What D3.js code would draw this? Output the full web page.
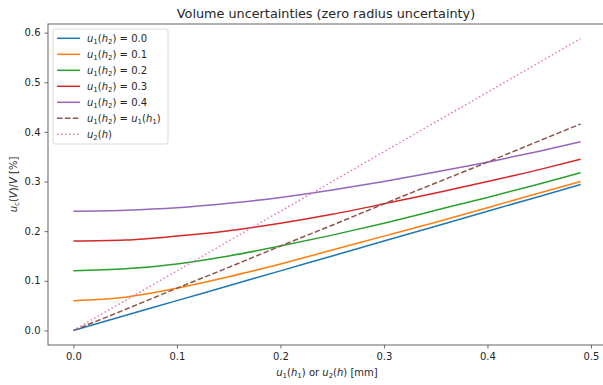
<!DOCTYPE html>
<html>
<head>
<meta charset="utf-8">
<script src="https://d3js.org/d3.v7.min.js"></script>
<style>
  body { margin: 0; background: #fff; }
  text { font-family: 'DejaVu Sans', sans-serif; fill: #262626; }
  .tick text { font-size: 10px; }
  .tick line { stroke: #444; stroke-width: 0.8; }
  .domain { display: none; }
</style>
</head>
<body>
<script>
// values
var xs = [0, 0.05, 0.1, 0.15, 0.2, 0.25, 0.3, 0.35, 0.4, 0.45, 0.49];
var h2_00 = [0, 0.030, 0.060, 0.090, 0.120, 0.150, 0.180, 0.210, 0.240, 0.270, 0.294];
var h2_01 = [0.060, 0.067, 0.085, 0.108, 0.134, 0.162, 0.190, 0.218, 0.247, 0.277, 0.300];
var h2_02 = [0.120, 0.124, 0.134, 0.150, 0.170, 0.192, 0.216, 0.242, 0.268, 0.295, 0.318];
var h2_03 = [0.180, 0.182, 0.190, 0.201, 0.216, 0.234, 0.255, 0.277, 0.300, 0.324, 0.345];
var h2_04 = [0.240, 0.242, 0.247, 0.256, 0.268, 0.283, 0.300, 0.319, 0.339, 0.361, 0.380];
var h2_eq = [0, 0.042, 0.085, 0.127, 0.170, 0.212, 0.255, 0.297, 0.339, 0.382, 0.416];
var u2h   = [0, 0.060, 0.120, 0.180, 0.240, 0.300, 0.360, 0.420, 0.480, 0.540, 0.588];

var xTicks = [0, 0.1, 0.2, 0.3, 0.4, 0.5];
var yTicks = [0, 0.1, 0.2, 0.3, 0.4, 0.5, 0.6];

var series = [
  {v: h2_00, color: '#1f77b4', dash: null, label: [['u','i'],['1','s'],['(','r'],['h','i'],['2','s'],[') = 0.0','r']]},
  {v: h2_01, color: '#ff7f0e', dash: null, label: [['u','i'],['1','s'],['(','r'],['h','i'],['2','s'],[') = 0.1','r']]},
  {v: h2_02, color: '#2ca02c', dash: null, label: [['u','i'],['1','s'],['(','r'],['h','i'],['2','s'],[') = 0.2','r']]},
  {v: h2_03, color: '#d62728', dash: null, label: [['u','i'],['1','s'],['(','r'],['h','i'],['2','s'],[') = 0.3','r']]},
  {v: h2_04, color: '#9467bd', dash: null, label: [['u','i'],['1','s'],['(','r'],['h','i'],['2','s'],[') = 0.4','r']]},
  {v: h2_eq, color: '#8c564b', dash: '5.5,2.4', label: [['u','i'],['1','s'],['(','r'],['h','i'],['2','s'],[') = ','r'],['u','i'],['1','s'],['(','r'],['h','i'],['1','s'],[')','r']]},
  {v: u2h,   color: '#e377c2', dash: '1.5,2.5', label: [['u','i'],['2','s'],['(','r'],['h','i'],[')','r']]}
];

var W = 603, H = 385;
var m = {left: 48, top: 24, right: 606, bottom: 345};

var svg = d3.select('body').append('svg')
  .attr('width', W).attr('height', H);

var x = d3.scaleLinear().domain([-0.0245, 0.5145]).range([m.left, m.right]);
var y = d3.scaleLinear().domain([-0.0294, 0.6174]).range([m.bottom, m.top]);

// math-ish text: italic variables, small lowered subscripts
function mathText(t, parts, size) {
  parts.forEach(function(p, i) {
    var prev = i > 0 ? parts[i - 1][1] : 'r';
    var ts = t.append('tspan').text(p[0]);
    if (p[1] === 'i') ts.attr('font-style', 'italic');
    if (p[1] === 's') {
      ts.attr('font-size', size * 0.7).attr('dy', size * 0.22);
    } else if (prev === 's') {
      ts.attr('dy', -size * 0.22);
    }
  });
}

// axes
svg.append('g')
  .attr('transform', `translate(0,${m.bottom})`)
  .call(d3.axisBottom(x).tickValues(xTicks).tickFormat(d3.format('.1f')).tickSize(3.5).tickPadding(4));

svg.append('g')
  .attr('transform', `translate(${m.left},0)`)
  .call(d3.axisLeft(y).tickValues(yTicks).tickFormat(d3.format('.1f')).tickSize(3.5).tickPadding(4));

// plot lines
var line = d3.line()
  .x(function(d, i) { return x(xs[i]); })
  .y(function(d) { return y(d); })
  .curve(d3.curveMonotoneX);

svg.append('defs').append('clipPath').attr('id', 'clip')
  .append('rect').attr('x', m.left).attr('y', m.top)
  .attr('width', m.right - m.left).attr('height', m.bottom - m.top);

svg.append('g').attr('clip-path', 'url(#clip)')
  .selectAll('path').data(series).enter().append('path')
  .attr('d', function(d) { return line(d.v); })
  .attr('fill', 'none')
  .attr('stroke', function(d) { return d.color; })
  .attr('stroke-width', 1.5)
  .attr('stroke-dasharray', function(d) { return d.dash; });

// frame
svg.append('rect')
  .attr('x', m.left).attr('y', m.top)
  .attr('width', m.right - m.left).attr('height', m.bottom - m.top)
  .attr('fill', 'none').attr('stroke', '#555').attr('stroke-width', 0.9);

// title
svg.append('text')
  .attr('x', (m.left + m.right) / 2 - 1).attr('y', 18)
  .attr('text-anchor', 'middle').attr('font-size', 12.8)
  .text('Volume uncertainties (zero radius uncertainty)');

// axis labels
var xl = svg.append('text')
  .attr('x', (m.left + m.right) / 2).attr('y', 376)
  .attr('text-anchor', 'middle').attr('font-size', 10);
mathText(xl, [['u','i'],['1','s'],['(','r'],['h','i'],['1','s'],[') or ','r'],['u','i'],['2','s'],['(','r'],['h','i'],[') [mm]','r']], 10);

var yl = svg.append('text')
  .attr('transform', `translate(17,${(m.top + m.bottom) / 2}) rotate(-90)`)
  .attr('text-anchor', 'middle').attr('font-size', 10);
mathText(yl, [['u','i'],['c','s'],['(','r'],['V','i'],[')/','r'],['V','i'],[' [%]','r']], 10);

// legend
var lg = svg.append('g');
lg.append('rect')
  .attr('x', 53).attr('y', 29).attr('width', 115).attr('height', 115)
  .attr('rx', 2).attr('fill', '#fff').attr('fill-opacity', 0.8)
  .attr('stroke', '#d0d0d0').attr('stroke-width', 0.8);

series.forEach(function(s, i) {
  var yy = 38.3 + i * 16;
  lg.append('line')
    .attr('x1', 57).attr('x2', 80).attr('y1', yy).attr('y2', yy)
    .attr('stroke', s.color).attr('stroke-width', 1.5)
    .attr('stroke-dasharray', s.dash);
  var t = lg.append('text').attr('x', 87).attr('y', yy + 3.5).attr('font-size', 10);
  mathText(t, s.label, 10);
});
</script>
</body>
</html>
